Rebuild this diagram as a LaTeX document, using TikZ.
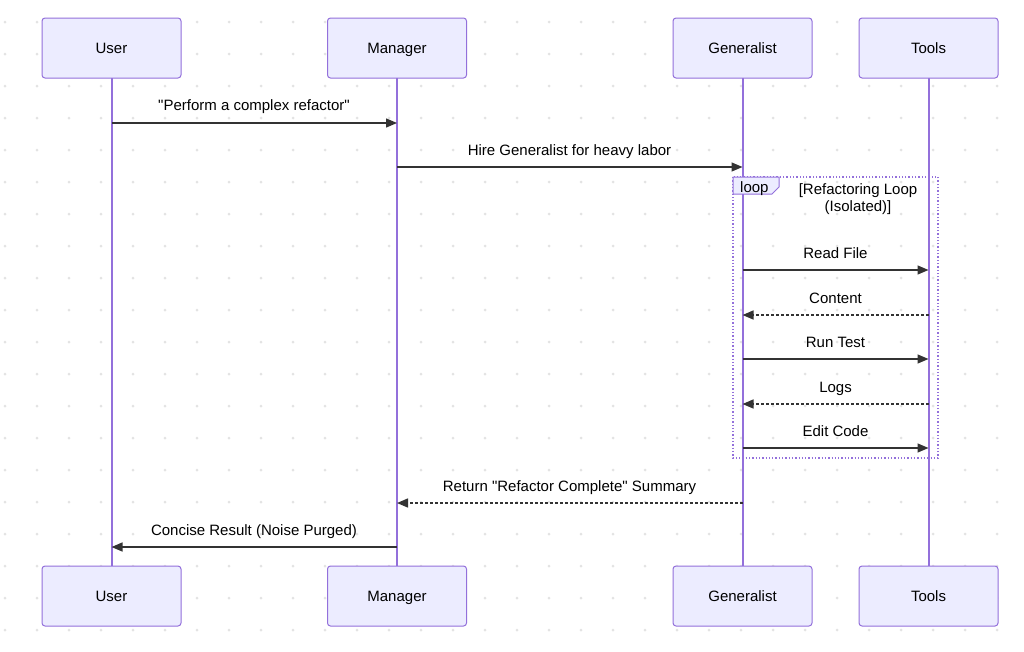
\documentclass[tikz,border=0pt]{standalone}
\usepackage{fontspec}
\setmainfont{Liberation Sans}[Ligatures=TeXOff]
\usetikzlibrary{arrows.meta}
\definecolor{boxfill}{HTML}{ECECFF}
\definecolor{boxline}{HTML}{9370DB}
\definecolor{msgline}{HTML}{333333}
\definecolor{dotc}{HTML}{E3E3E3}
\begin{document}
\begin{tikzpicture}[x=1pt,y=-1pt,
  actor/.style={draw=boxline,fill=boxfill,line width=1pt,rounded corners=3pt,minimum width=139pt,minimum height=60pt,inner sep=0pt,text height=12pt,text depth=1pt,font=\fontsize{15}{17}\selectfont},
  lifeline/.style={draw=boxline,line width=2pt},
  msg/.style={draw=msgline,line width=1.4pt,-{Triangle[length=11pt,width=9pt]}},
  reply/.style={msg,dash pattern=on 3pt off 2pt},
  mlabel/.style={font=\fontsize{15}{17}\selectfont,inner sep=0pt,anchor=base}]
\useasboundingbox (0,0) rectangle (1024,651);
\fill[white] (0,0) rectangle (1024,651);
\foreach \i in {0,...,31} {\foreach \j in {0,...,20} {
  \fill[dotc] (5+32*\i,22+32*\j) circle (1.5pt);}}
% lifelines
\foreach \n/\x in {u/111.5,m/397,g/742.5,t/928.5} {
  \coordinate (\n top) at (\x,78);
  \coordinate (\n bot) at (\x,566);
}
\draw[lifeline] (utop) -- (ubot);
\draw[lifeline] (mtop) -- (mbot);
\draw[lifeline] (gtop) -- (gbot);
\draw[lifeline] (ttop) -- (tbot);
% actors
\node[actor] (user) at (111.5,48) {User};
\node[actor] (manager) at (397,48) {Manager};
\node[actor] (gen) at (742.5,48) {Generalist};
\node[actor] (tools) at (928.5,48) {Tools};
\node[actor] (user2) at (111.5,596) {User};
\node[actor] (manager2) at (397,596) {Manager};
\node[actor] (gen2) at (742.5,596) {Generalist};
\node[actor] (tools2) at (928.5,596) {Tools};
% loop box
\draw[boxline,line width=1.3pt,dotted] (733,177) rectangle (938,458);
\draw[boxline,fill=boxfill,line width=1pt] (733,177) -- (779,177) -- (779,187) -- (772,194) -- (733,194) -- cycle;
\node[font=\fontsize{15}{17}\selectfont,inner sep=0pt,anchor=base west] (looplbl) at (740,192) {loop};
\node[mlabel] (loopt1) at (858,194) {[Refactoring Loop};
\node[mlabel] (loopt2) at (858,211) {(Isolated)]};
% message coordinates
\foreach \n/\y in {1/123,2/167,3/270,4/315,5/359,6/404,7/448,8/503,9/547} {
  \coordinate (u\n) at (111.5,\y);
  \coordinate (m\n) at (397,\y);
  \coordinate (g\n) at (742.5,\y);
  \coordinate (t\n) at (928.5,\y);
}
\draw[msg] (u1) -- (m1);
\node[mlabel] (l1) at (254,110) {"Perform a complex refactor"};
\draw[msg] (m2) -- (g2);
\node[mlabel] (l2) at (569.5,155) {Hire Generalist for heavy labor};
\draw[msg] (g3) -- (t3);
\node[mlabel] (l3) at (835.5,258) {Read File};
\draw[reply] (t4) -- (g4);
\node[mlabel] (l4) at (835.5,303) {Content};
\draw[msg] (g5) -- (t5);
\node[mlabel] (l5) at (835.5,347) {Run Test};
\draw[reply] (t6) -- (g6);
\node[mlabel] (l6) at (835.5,392) {Logs};
\draw[msg] (g7) -- (t7);
\node[mlabel] (l7) at (835.5,436) {Edit Code};
\draw[reply] (g8) -- (m8);
\node[mlabel] (l8) at (569.5,491) {Return "Refactor Complete" Summary};
\draw[msg] (m9) -- (u9);
\node[mlabel] (l9) at (254,535) {Concise Result (Noise Purged)};
\end{tikzpicture}
\end{document}
